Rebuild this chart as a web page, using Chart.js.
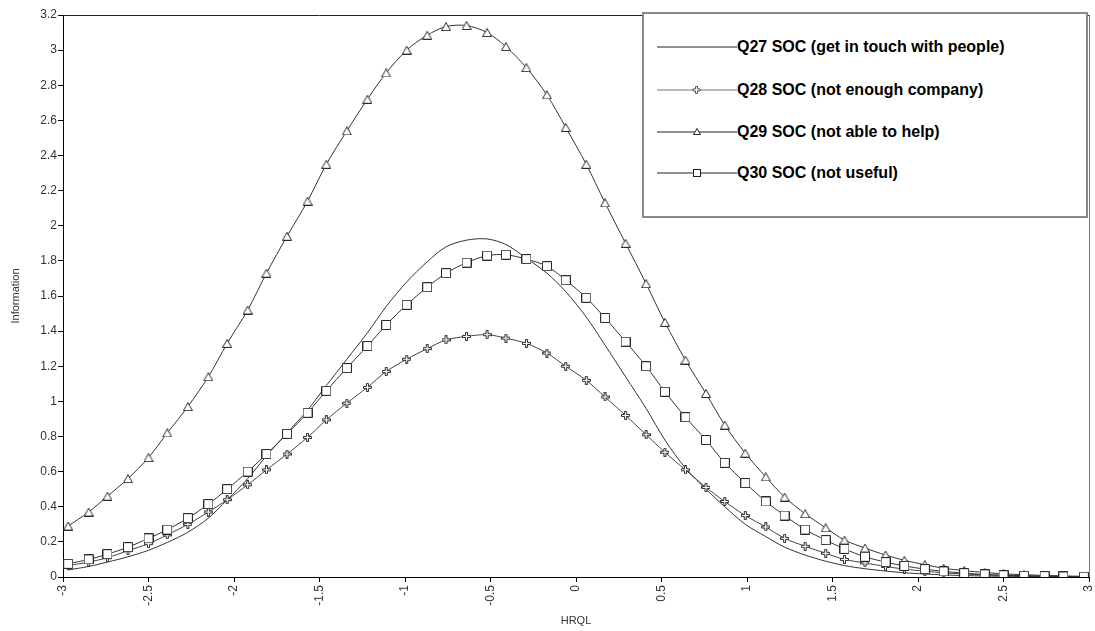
<!DOCTYPE html>
<html><head><meta charset="utf-8">
<script src="https://cdn.jsdelivr.net/npm/chart.js@4"></script>
<style>
html,body{margin:0;padding:0;background:#fff;}
#wrap{position:relative;width:1095px;height:631px;}
#legend{position:absolute;left:642px;top:12px;width:442px;height:202px;border:2px solid #8a8a8a;background:#fff;font-family:"Liberation Sans",Arial,sans-serif;font-weight:bold;font-size:16px;color:#000;}
.row{position:absolute;left:0;height:20px;display:flex;align-items:center;white-space:nowrap;}
.row svg{margin-left:13px;display:block;}
</style>
</head><body>
<div id="wrap">
<canvas id="c" width="1095" height="631"></canvas>
<div id="legend"></div>
</div>
<script>
const xValues = [-2.97,-2.85,-2.74,-2.62,-2.50,-2.39,-2.27,-2.15,-2.04,-1.92,-1.81,-1.69,-1.57,-1.46,-1.34,-1.22,-1.11,-0.99,-0.87,-0.76,-0.64,-0.52,-0.41,-0.29,-0.17,-0.06,0.06,0.17,0.29,0.41,0.52,0.64,0.76,0.87,0.99,1.11,1.22,1.34,1.46,1.57,1.69,1.81,1.92,2.04,2.15,2.27,2.39,2.50,2.62,2.74,2.85,2.97];
const q27 = [0.04,0.06,0.085,0.115,0.152,0.197,0.255,0.335,0.44,0.56,0.69,0.82,0.95,1.09,1.24,1.39,1.54,1.68,1.795,1.88,1.918,1.925,1.893,1.815,1.73,1.625,1.48,1.32,1.14,0.96,0.78,0.62,0.50,0.40,0.30,0.23,0.17,0.125,0.09,0.065,0.047,0.034,0.024,0.017,0.012,0.008,0.006,0.004,0.003,0.002,0.0015,0.001];
const q28 = [0.065,0.085,0.11,0.15,0.19,0.24,0.30,0.37,0.44,0.525,0.61,0.70,0.795,0.895,0.99,1.08,1.17,1.24,1.30,1.35,1.37,1.38,1.36,1.33,1.275,1.20,1.12,1.025,0.92,0.81,0.71,0.61,0.51,0.43,0.35,0.285,0.22,0.175,0.135,0.10,0.08,0.06,0.045,0.033,0.024,0.017,0.012,0.009,0.006,0.004,0.003,0.002];
const q29 = [0.29,0.37,0.46,0.56,0.68,0.82,0.97,1.14,1.33,1.52,1.73,1.94,2.14,2.35,2.54,2.72,2.87,3.00,3.085,3.134,3.14,3.10,3.02,2.90,2.745,2.56,2.35,2.13,1.90,1.67,1.45,1.235,1.045,0.865,0.705,0.57,0.455,0.36,0.28,0.21,0.165,0.125,0.095,0.07,0.05,0.036,0.026,0.018,0.013,0.009,0.006,0.004];
const q30 = [0.075,0.10,0.13,0.17,0.22,0.27,0.335,0.415,0.50,0.60,0.70,0.815,0.935,1.06,1.19,1.315,1.435,1.55,1.65,1.73,1.79,1.83,1.835,1.81,1.77,1.69,1.59,1.475,1.34,1.20,1.055,0.91,0.78,0.65,0.535,0.43,0.35,0.27,0.21,0.16,0.115,0.085,0.063,0.045,0.032,0.022,0.015,0.01,0.007,0.005,0.003,0.002];
const seriesNames = ["Q27 SOC (get in touch with people)","Q28 SOC (not enough company)","Q29 SOC (not able to help)","Q30 SOC (not useful)"];
const xTickValues = [-3,-2.5,-2,-1.5,-1,-0.5,0,0.5,1,1.5,2,2.5,3];
const yTickValues = [0,0.2,0.4,0.6,0.8,1,1.2,1.4,1.6,1.8,2,2.2,2.4,2.6,2.8,3,3.2];

function mk(w,h,draw){const c=document.createElement('canvas');c.width=w;c.height=h;const g=c.getContext('2d');g.fillStyle='#fff';g.strokeStyle='#2a2a2a';g.lineWidth=1;draw(g);return c;}
const triImg = mk(10,9,g=>{g.beginPath();g.moveTo(5,0.5);g.lineTo(9.5,8.5);g.lineTo(0.5,8.5);g.closePath();g.fill();g.stroke();});
const sqImg = mk(10,10,g=>{g.beginPath();g.rect(0.5,0.5,9,9);g.fill();g.stroke();});
const plusImg = mk(9,9,g=>{const p=[[3.5,0.5],[5.5,0.5],[5.5,3.5],[8.5,3.5],[8.5,5.5],[5.5,5.5],[5.5,8.5],[3.5,8.5],[3.5,5.5],[0.5,5.5],[0.5,3.5],[3.5,3.5]];g.beginPath();p.forEach((q,i)=>i?g.lineTo(q[0],q[1]):g.moveTo(q[0],q[1]));g.closePath();g.fill();g.stroke();});

const pts = arr => xValues.map((x,i)=>({x:x,y:arr[i]}));
const FONT = "'Liberation Sans', Arial, sans-serif";
const fmt = v => String(Math.round(v*100)/100);

const framePlugin = {
  id:'frame',
  afterDraw(chart){
    const a=chart.chartArea, ctx=chart.ctx;
    ctx.save();
    ctx.lineWidth=1;
    ctx.strokeStyle='#222';
    ctx.beginPath();ctx.moveTo(a.left,Math.round(a.top)+0.5);ctx.lineTo(a.right,Math.round(a.top)+0.5);ctx.stroke();
    ctx.strokeStyle='#777';
    ctx.beginPath();ctx.moveTo(Math.round(a.right)+0.5,a.top);ctx.lineTo(Math.round(a.right)+0.5,a.bottom);ctx.stroke();
    ctx.restore();
  }
};

new Chart(document.getElementById('c'),{
  type:'scatter',
  data:{datasets:[
    {label:seriesNames[3],data:pts(q30),showLine:true,borderColor:'#333',borderWidth:1,pointStyle:sqImg,pointRadius:4,order:0,tension:0.3},
    {label:seriesNames[2],data:pts(q29),showLine:true,borderColor:'#333',borderWidth:1,pointStyle:triImg,pointRadius:4,order:1,tension:0.3},
    {label:seriesNames[1],data:pts(q28),showLine:true,borderColor:'#444',borderWidth:1,pointStyle:plusImg,pointRadius:4,order:2,tension:0.3},
    {label:seriesNames[0],data:pts(q27),showLine:true,borderColor:'#333',borderWidth:1,pointRadius:0,order:3,tension:0.3}
  ]},
  options:{
    responsive:false,animation:false,devicePixelRatio:1,
    layout:{padding:{left:0,right:6,top:15,bottom:0}},
    plugins:{legend:{display:false},tooltip:{enabled:false}},
    scales:{
      x:{type:'linear',min:-3,max:3,
        afterBuildTicks:s=>{s.ticks=xTickValues.map(v=>({value:v}));},
        afterFit:s=>{s.height=54;s.paddingLeft=0;s.paddingRight=0;},
        grid:{drawOnChartArea:false,drawTicks:true,tickLength:5,color:'#000'},
        border:{display:true,color:'#000',width:1},
        ticks:{minRotation:90,maxRotation:90,padding:3,color:'#333',font:{family:FONT,size:12},autoSkip:false,callback:fmt},
        title:{display:true,text:'HRQL',color:'#333',font:{family:FONT,size:11},padding:{top:0,bottom:3}}
      },
      y:{type:'linear',min:0,max:3.2,
        afterBuildTicks:s=>{s.ticks=yTickValues.map(v=>({value:v}));},
        afterFit:s=>{s.width=63;s.paddingTop=0;s.paddingBottom=0;},
        grid:{drawOnChartArea:false,drawTicks:true,tickLength:5,color:'#000'},
        border:{display:true,color:'#000',width:1},
        ticks:{padding:1,color:'#333',font:{family:FONT,size:12},autoSkip:false,callback:fmt},
        title:{display:true,text:'Information',color:'#333',font:{family:FONT,size:11},padding:{top:9,bottom:0}}
      }
    }
  },
  plugins:[framePlugin]
});

// HTML legend
const legendRows = [
  {name:seriesNames[0],marker:'',stroke:'#222'},
  {name:seriesNames[1],marker:'plus',stroke:'#777'},
  {name:seriesNames[2],marker:'tri',stroke:'#222'},
  {name:seriesNames[3],marker:'sq',stroke:'#222'}
];
const rowTops = [23,66,107.5,149];
const lg=document.getElementById('legend');
legendRows.forEach((r,i)=>{
  let m='';
  if(r.marker==='plus') m='<path d="M38.5 6.5h2v2.5h2.5v2h-2.5v2.5h-2v-2.5h-2.5v-2h2.5z" fill="#fff" stroke="#555" stroke-width="1"/>';
  if(r.marker==='tri') m='<path d="M40 6.5L43.5 12.5H36.5Z" fill="#fff" stroke="#222" stroke-width="1"/>';
  if(r.marker==='sq') m='<rect x="36.5" y="6.5" width="7" height="7" fill="#fff" stroke="#222" stroke-width="1"/>';
  const d=document.createElement('div');
  d.className='row';d.style.top=rowTops[i]+'px';
  d.innerHTML='<svg width="80" height="20"><line x1="0" y1="10" x2="80" y2="10" stroke="'+r.stroke+'" stroke-width="1"/>'+m+'</svg><span>'+r.name+'</span>';
  lg.appendChild(d);
});
</script>
</body></html>
